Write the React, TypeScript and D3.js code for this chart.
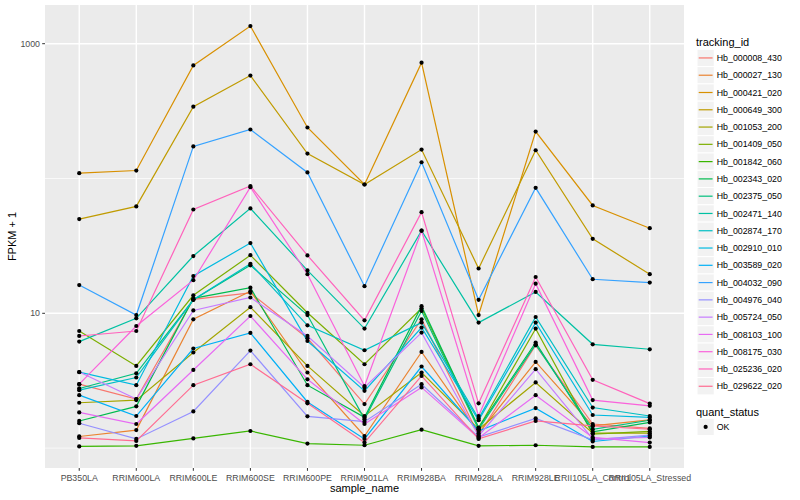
import * as d3 from "d3";
import React from "react";

// sample order on the x axis
const samples = [
  "PB350LA", "RRIM600LA", "RRIM600LE", "RRIM600SE", "RRIM600PE", "RRIM901LA",
  "RRIM928BA", "RRIM928LA", "RRIM928LE", "RRII105LA_Control", "RRII105LA_Stressed",
];

const trackingIds = [
  "Hb_000008_430", "Hb_000027_130", "Hb_000421_020", "Hb_000649_300", "Hb_001053_200",
  "Hb_001409_050", "Hb_001842_060", "Hb_002343_020", "Hb_002375_050", "Hb_002471_140",
  "Hb_002874_170", "Hb_002910_010", "Hb_003589_020", "Hb_004032_090", "Hb_004976_040",
  "Hb_005724_050", "Hb_008103_100", "Hb_008175_030", "Hb_025236_020", "Hb_029622_020",
];

// FPKM + 1, one row per tracking_id, one value per sample
const fpkmPlusOne = [
  [2.98, 2.31, 12.7, 14.2, 6.53, 2.12, 9.03, 1.25, 5.79, 1.51, 1.40],
  [1.22, 1.36, 9.03, 14.6, 3.64, 1.23, 5.17, 1.29, 4.36, 1.46, 1.62],
  [109.5, 114.6, 690, 1352, 239, 90.3, 723, 9.71, 223, 63.1, 42.8],
  [50.0, 62.1, 341, 580, 153, 90.3, 164, 21.5, 162, 35.7, 19.5],
  [2.17, 2.27, 5.12, 11.1, 4.07, 1.73, 3.64, 1.38, 3.07, 1.29, 1.29],
  [7.39, 4.07, 13.6, 27.0, 10.1, 4.19, 10.9, 1.41, 7.70, 1.27, 1.33],
  [1.03, 1.04, 1.18, 1.34, 1.08, 1.05, 1.37, 1.04, 1.05, 1.02, 1.02],
  [1.59, 2.04, 12.9, 15.5, 2.93, 1.69, 11.3, 1.42, 6.07, 1.32, 1.55],
  [2.77, 3.59, 12.6, 22.7, 9.71, 1.64, 10.4, 1.38, 5.89, 1.38, 1.61],
  [6.17, 9.18, 26.6, 60.0, 20.8, 7.70, 41.0, 8.53, 14.4, 5.89, 5.41],
  [2.69, 3.34, 12.6, 23.3, 8.15, 5.32, 8.53, 1.66, 9.39, 2.00, 1.73],
  [3.66, 2.93, 18.9, 33.2, 6.23, 2.66, 7.84, 1.61, 8.53, 1.76, 1.69],
  [2.47, 1.73, 5.48, 7.15, 2.20, 1.17, 4.03, 1.34, 1.98, 1.12, 1.23],
  [16.2, 9.71, 173, 231, 111, 15.9, 132, 12.6, 85.3, 17.9, 16.9],
  [1.53, 1.17, 1.87, 5.29, 1.72, 1.57, 2.98, 1.21, 1.66, 1.15, 1.25],
  [3.67, 2.31, 10.5, 13.1, 6.79, 2.82, 7.19, 1.23, 3.85, 1.17, 1.20],
  [1.84, 1.51, 3.80, 9.55, 3.24, 1.51, 2.82, 1.19, 2.47, 1.20, 1.10],
  [2.98, 8.05, 17.6, 86.2, 19.5, 2.89, 41.0, 1.73, 16.6, 2.27, 2.06],
  [6.79, 7.39, 58.9, 88.0, 26.9, 8.87, 56.3, 2.15, 18.6, 3.21, 2.14],
  [1.19, 1.13, 2.93, 4.19, 2.15, 1.10, 3.43, 1.17, 1.59, 1.46, 1.38],
];

const majorBreaks = [10, 1000];
const minorBreaks = [1, 100];

// ggplot default hue palette for 20 levels
const palette = [
  "#F8766D", "#EA8331", "#D89000", "#C09B00", "#A3A500", "#7CAE00", "#39B600",
  "#00BB4E", "#00BF7D", "#00C1A3", "#00BFC4", "#00BAE0", "#00B0F6", "#35A2FF",
  "#9590FF", "#C77CFF", "#E76BF3", "#FA62DB", "#FF62BC", "#FF6C91",
];

const FONT = "'Liberation Sans', Arial, Helvetica, sans-serif";

export default function App() {
  const width = 800;
  const height = 500;
  const panel = { left: 45, right: 684, top: 5, bottom: 468 };

  const x = d3.scalePoint<string>().domain(samples).range([panel.left, panel.right]).padding(0.6);

  // log10 scale with ggplot's 5% expansion in transformed space
  const [lo, hi] = d3.extent(fpkmPlusOne.flat()).map((v) => Math.log10(v as number));
  const pad = (hi - lo) * 0.05;
  const y = d3.scaleLog().domain([10 ** (lo - pad), 10 ** (hi + pad)]).range([panel.bottom, panel.top]);

  const line = d3
    .line<number>()
    .x((_, i) => x(samples[i]) as number)
    .y((d) => y(d));

  const keySize = 17.28;
  const legendX = 697;
  const keysTop = 49.3;

  return (
    <svg width={width} height={height} style={{ position: "absolute", left: 0, top: 0, background: "#fff" }}>
      <rect x={panel.left} y={panel.top} width={panel.right - panel.left} height={panel.bottom - panel.top} fill="#EBEBEB" />

      {/* grid */}
      {minorBreaks.map((b) => (
        <line key={"mn" + b} x1={panel.left} x2={panel.right} y1={y(b)} y2={y(b)} stroke="#fff" strokeWidth={0.7} />
      ))}
      {majorBreaks.map((b) => (
        <line key={"mj" + b} x1={panel.left} x2={panel.right} y1={y(b)} y2={y(b)} stroke="#fff" strokeWidth={1.4} />
      ))}
      {samples.map((s) => (
        <line key={"gx" + s} x1={x(s)} x2={x(s)} y1={panel.top} y2={panel.bottom} stroke="#fff" strokeWidth={1.4} />
      ))}

      {/* lines */}
      {fpkmPlusOne.map((row, i) => (
        <path key={"l" + i} d={line(row) as string} fill="none" stroke={palette[i]} strokeWidth={1.2} />
      ))}
      {/* points */}
      {fpkmPlusOne.map((row, i) =>
        row.map((v, j) => <circle key={"p" + i + "-" + j} cx={x(samples[j])} cy={y(v)} r={2.1} fill="#000" />)
      )}

      {/* y axis */}
      {majorBreaks.map((b) => (
        <g key={"yt" + b}>
          <line x1={panel.left - 2.8} x2={panel.left} y1={y(b)} y2={y(b)} stroke="#333" strokeWidth={1} />
          <text x={panel.left - 5} y={y(b)} dy="0.35em" textAnchor="end" fontFamily={FONT} fontSize={8.8} fill="#4D4D4D">
            {b}
          </text>
        </g>
      ))}
      {/* x axis */}
      {samples.map((s) => (
        <g key={"xt" + s}>
          <line x1={x(s)} x2={x(s)} y1={panel.bottom} y2={panel.bottom + 2.8} stroke="#333" strokeWidth={1} />
          <text x={x(s)} y={panel.bottom + 13} textAnchor="middle" fontFamily={FONT} fontSize={8.8} fill="#4D4D4D">
            {s}
          </text>
        </g>
      ))}

      <text x={(panel.left + panel.right) / 2} y={492} textAnchor="middle" fontFamily={FONT} fontSize={11} fill="#000">
        sample_name
      </text>
      <text
        transform={`translate(16,${(panel.top + panel.bottom) / 2}) rotate(-90)`}
        textAnchor="middle"
        fontFamily={FONT}
        fontSize={11}
        fill="#000"
      >
        FPKM + 1
      </text>

      {/* legend: tracking_id */}
      <text x={legendX - 1} y={45.5} fontFamily={FONT} fontSize={11} fill="#000">
        tracking_id
      </text>
      {trackingIds.map((id, i) => {
        const top = keysTop + i * keySize;
        return (
          <g key={"lg" + id}>
            <rect x={legendX} y={top} width={keySize} height={keySize} fill="#F2F2F2" stroke="#fff" strokeWidth={1} />
            <line x1={legendX + 1.7} x2={legendX + keySize - 1.7} y1={top + keySize / 2} y2={top + keySize / 2} stroke={palette[i]} strokeWidth={1.2} />
            <text x={legendX + keySize + 2.5} y={top + keySize / 2} dy="0.35em" fontFamily={FONT} fontSize={8.8} fill="#000">
              {id}
            </text>
          </g>
        );
      })}

      {/* legend: quant_status */}
      <text x={legendX - 1} y={416} fontFamily={FONT} fontSize={11} fill="#000">
        quant_status
      </text>
      <rect x={legendX} y={418.3} width={keySize} height={keySize} fill="#F2F2F2" stroke="#fff" strokeWidth={1} />
      <circle cx={legendX + keySize / 2} cy={418.3 + keySize / 2} r={2.1} fill="#000" />
      <text x={legendX + keySize + 2.5} y={418.3 + keySize / 2} dy="0.35em" fontFamily={FONT} fontSize={8.8} fill="#000">
        OK
      </text>
    </svg>
  );
}
